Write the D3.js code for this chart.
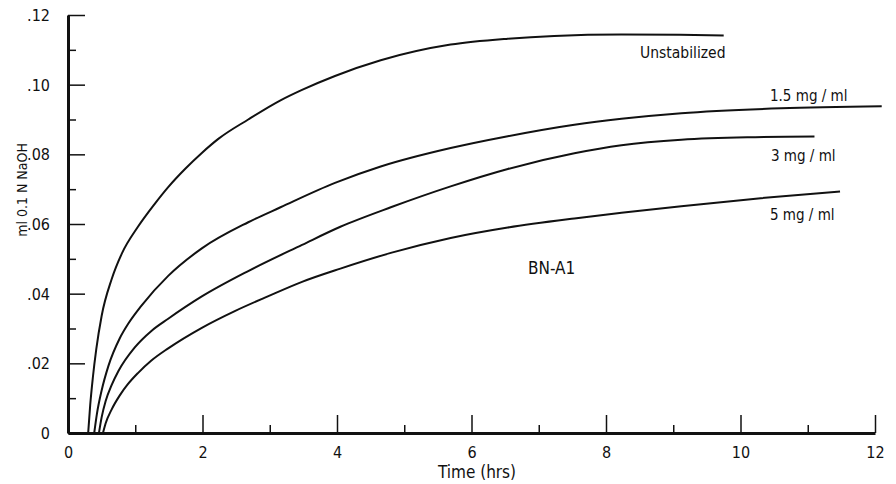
<!DOCTYPE html>
<html>
<head>
<meta charset="utf-8">
<script src="https://cdn.jsdelivr.net/npm/d3@7"></script>
<style>
  body { margin: 0; background: #fff; }
  svg text { font-family: "DejaVu Sans Condensed", "DejaVu Sans", sans-serif; font-stretch: condensed; fill: #111; }
</style>
</head>
<body>
<div id="chart"></div>
<script>
// hours / ml 0.1 N NaOH
var unstabHours = [0.30, 0.33, 0.37, 0.42, 0.50, 0.65, 0.80, 1.04, 1.29, 1.49, 1.74, 1.99, 2.24, 2.68, 3.16, 3.48, 3.97, 4.65, 5.69, 6.54, 7.23, 8.23, 9.1, 9.75];
var unstabValues = [0, 0.008, 0.016, 0.024, 0.0336, 0.0442, 0.0515, 0.0592, 0.0658, 0.0706, 0.0758, 0.0804, 0.0845, 0.09, 0.0955, 0.0985, 0.1025, 0.107, 0.1115, 0.1132, 0.114, 0.1144, 0.1143, 0.1141];

var mg15Hours = [0.39, 0.43, 0.50, 0.60, 0.77, 0.90, 1.09, 1.49, 1.99, 2.68, 3.16, 3.97, 4.65, 5.69, 6.54, 7.53, 8.23, 9.12, 10.6, 12.1];
var mg15Values = [0, 0.0055, 0.0122, 0.0192, 0.0272, 0.0315, 0.0365, 0.0451, 0.053, 0.0605, 0.0648, 0.0718, 0.0765, 0.0818, 0.0852, 0.0885, 0.0902, 0.0918, 0.0932, 0.0938];

var mg3Hours = [0.46, 0.50, 0.56, 0.65, 0.75, 0.99, 1.24, 1.49, 1.99, 2.68, 3.48, 4.05, 4.8, 5.69, 6.54, 7.53, 8.23, 9.12, 10.1, 11.1];
var mg3Values = [0, 0.0045, 0.0092, 0.0138, 0.0178, 0.0245, 0.0293, 0.0328, 0.0392, 0.0465, 0.054, 0.0592, 0.0648, 0.0708, 0.0758, 0.0803, 0.0826, 0.0842, 0.0849, 0.0851];

var mg5Hours = [0.52, 0.56, 0.65, 0.77, 0.89, 1.04, 1.24, 1.49, 1.99, 2.48, 2.98, 3.48, 4.05, 4.8, 5.69, 6.54, 7.53, 8.23, 9.12, 10.3, 11.48];
var mg5Values = [0, 0.0028, 0.0068, 0.0108, 0.014, 0.0172, 0.0208, 0.0243, 0.0302, 0.035, 0.0393, 0.0434, 0.0472, 0.0517, 0.056, 0.059, 0.0616, 0.0632, 0.0651, 0.0674, 0.0693];

var seriesNames = ["Unstabilized", "1.5 mg / ml", "3 mg / ml", "5 mg / ml"];
var xMajorTicks = [0, 2, 4, 6, 8, 10, 12];
var xMinorTicks = [1, 3, 5, 7, 9, 11];
var yMajorTicks = [0, 0.02, 0.04, 0.06, 0.08, 0.10, 0.12];
var yMinorTicks = [0.01, 0.03, 0.05, 0.07, 0.09, 0.11];

var width = 896, height = 484;
var margin = { top: 15, right: 21, bottom: 51, left: 68 };

var svg = d3.select("#chart").append("svg")
  .attr("width", width)
  .attr("height", height);

var x = d3.scaleLinear().domain([0, 12]).range([margin.left, width - margin.right]);
var y = d3.scaleLinear().domain([0, 0.12]).range([height - margin.bottom, margin.top]);

var fmtY = function (d) { return d === 0 ? "0" : d3.format(".2f")(d).replace(/^0/, ""); };

// x axis, ticks pointing up
svg.append("g")
  .attr("transform", "translate(0," + y(0) + ")")
  .call(d3.axisBottom(x).tickValues(xMajorTicks).tickSizeInner(-18).tickSizeOuter(0).tickPadding(14).tickFormat(d3.format("d")));
svg.append("g")
  .attr("transform", "translate(0," + y(0) + ")")
  .call(d3.axisBottom(x).tickValues(xMinorTicks).tickSizeInner(-8).tickSizeOuter(0).tickFormat(""))
  .select(".domain").remove();

// y axis, ticks pointing right
var gy = svg.append("g")
  .attr("transform", "translate(" + x(0) + ",0)")
  .call(d3.axisLeft(y).tickValues(yMajorTicks).tickSizeInner(-17).tickSizeOuter(0).tickPadding(18).tickFormat(fmtY));
svg.append("g")
  .attr("transform", "translate(" + x(0) + ",0)")
  .call(d3.axisLeft(y).tickValues(yMinorTicks).tickSizeInner(-8).tickSizeOuter(0).tickFormat(""))
  .select(".domain").remove();

svg.selectAll(".domain").attr("stroke", "#111").attr("stroke-width", 3);
svg.selectAll(".tick line").attr("stroke", "#111").attr("stroke-width", 1.5);
svg.selectAll(".tick text").attr("font-size", 16).attr("fill", "#111")
  .style("font-family", "'DejaVu Sans Condensed', 'DejaVu Sans', sans-serif");
gy.selectAll(".tick text").attr("dy", "0.35em");

// curves
var line = d3.line()
  .x(function (d) { return x(d[0]); })
  .y(function (d) { return y(d[1]); })
  .curve(d3.curveMonotoneX);

var series = [
  d3.zip(unstabHours, unstabValues),
  d3.zip(mg15Hours, mg15Values),
  d3.zip(mg3Hours, mg3Values),
  d3.zip(mg5Hours, mg5Values)
];

svg.selectAll(".curve")
  .data(series)
  .enter().append("path")
  .attr("class", "curve")
  .attr("fill", "none")
  .attr("stroke", "#111")
  .attr("stroke-width", 2)
  .attr("d", line);

// curve labels
var labelPos = [[640, 58], [770, 101], [771, 161], [770, 220]];
var labelSize = [15.5, 15, 15, 15];
svg.selectAll(".lbl")
  .data(seriesNames)
  .enter().append("text")
  .attr("class", "lbl")
  .attr("x", function (d, i) { return labelPos[i][0]; })
  .attr("y", function (d, i) { return labelPos[i][1]; })
  .attr("font-size", function (d, i) { return labelSize[i]; })
  .text(function (d) { return d; });

svg.append("text")
  .attr("x", 528).attr("y", 274)
  .attr("font-size", 17)
  .text("BN-A1");

// axis titles
svg.append("text")
  .attr("x", 477).attr("y", 478)
  .attr("text-anchor", "middle")
  .attr("font-size", 17)
  .text("Time (hrs)");

svg.append("text")
  .attr("transform", "translate(27,190) rotate(-90)")
  .attr("text-anchor", "middle")
  .attr("font-size", 14)
  .text("ml 0.1 N NaOH");
</script>
</body>
</html>
